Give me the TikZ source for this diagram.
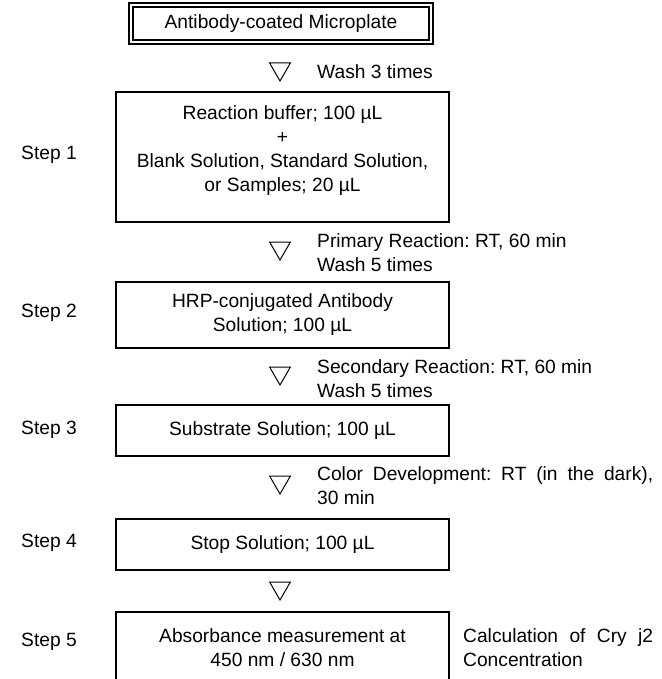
\documentclass[tikz,border=0pt]{standalone}
\usepackage{fontspec}
\setmainfont{Liberation Sans}
\usetikzlibrary{shapes.geometric}
\frenchspacing
\begin{document}
\begin{tikzpicture}[x = 1pt, y = -1pt, font = \fontsize{19.2}{24}\selectfont,
                    main node/.style = {draw, rectangle, line width = 1.2pt, minimum width = 333pt, align = center, inner sep = 0pt},
                    tri node/.style = {draw, regular polygon, regular polygon sides = 3, shape border rotate = 180, minimum size = 24pt, inner sep = 0pt, line width = 1pt},
                    step node/.style = {anchor = west, inner sep = 0pt},
                    side node/.style = {anchor = west, align = left, inner sep = 0pt}]
                    \useasboundingbox (0, 0) rectangle (661, 679);
                    \clip (0, 0) rectangle (661, 679);
                    \node at (281, 23.5) [draw, double, double distance = 2.8pt, line width = 1.3pt, minimum width = 300pt, minimum height = 37pt] (plate) {Antibody-coated Microplate};
                    \node at (280, 69) [tri node] (tri1) {};
                    \node at (317, 72) [side node] (wash1) {Wash 3 times};

                    \node at (21, 155) [step node] (step1) {Step 1};
                    \node at (282.5, 157) [main node, minimum height = 130pt] (box1) {};
                    \node at (282.5, 150.5) [align = center] (text1) {Reaction buffer; 100 µL\\+\\Blank Solution, Standard Solution,\\or Samples; 20 µL};
                    \node at (280, 248) [tri node] (tri2) {};
                    \node at (317, 252.5) [side node] (react1) {Primary Reaction: RT, 60 min\\Wash 5 times};

                    \node at (21, 313) [step node] (step2) {Step 2};
                    \node at (282.5, 315) [main node, minimum height = 66pt] (box2) {HRP-conjugated Antibody\\Solution; 100 µL};
                    \node at (280, 373) [tri node] (tri3) {};
                    \node at (317, 378.5) [side node] (react2) {Secondary Reaction: RT, 60 min\\Wash 5 times};

                    \node at (21, 430) [step node] (step3) {Step 3};
                    \node at (282.5, 430.5) [main node, minimum height = 51pt] (box3) {Substrate Solution; 100 µL};
                    \node at (280, 482) [tri node] (tri4) {};
                    \node at (317, 486) [side node] (color) {\makebox[336pt][s]{Color Development: RT (in the dark),}\\30 min};

                    \node at (21, 543) [step node] (step4) {Step 4};
                    \node at (282.5, 544.5) [main node, minimum height = 51pt] (box4) {Stop Solution; 100 µL};
                    \node at (280, 588) [tri node] (tri5) {};

                    \node at (21, 642) [step node] (step5) {Step 5};
                    \node at (282.5, 648) [main node, minimum height = 72pt] (box5) {Absorbance measurement at\\450 nm / 630 nm};
                    \node at (463, 648) [side node] (calc) {\makebox[190pt][s]{Calculation of Cry j2}\\Concentration};
                \end{tikzpicture}
\end{document}
